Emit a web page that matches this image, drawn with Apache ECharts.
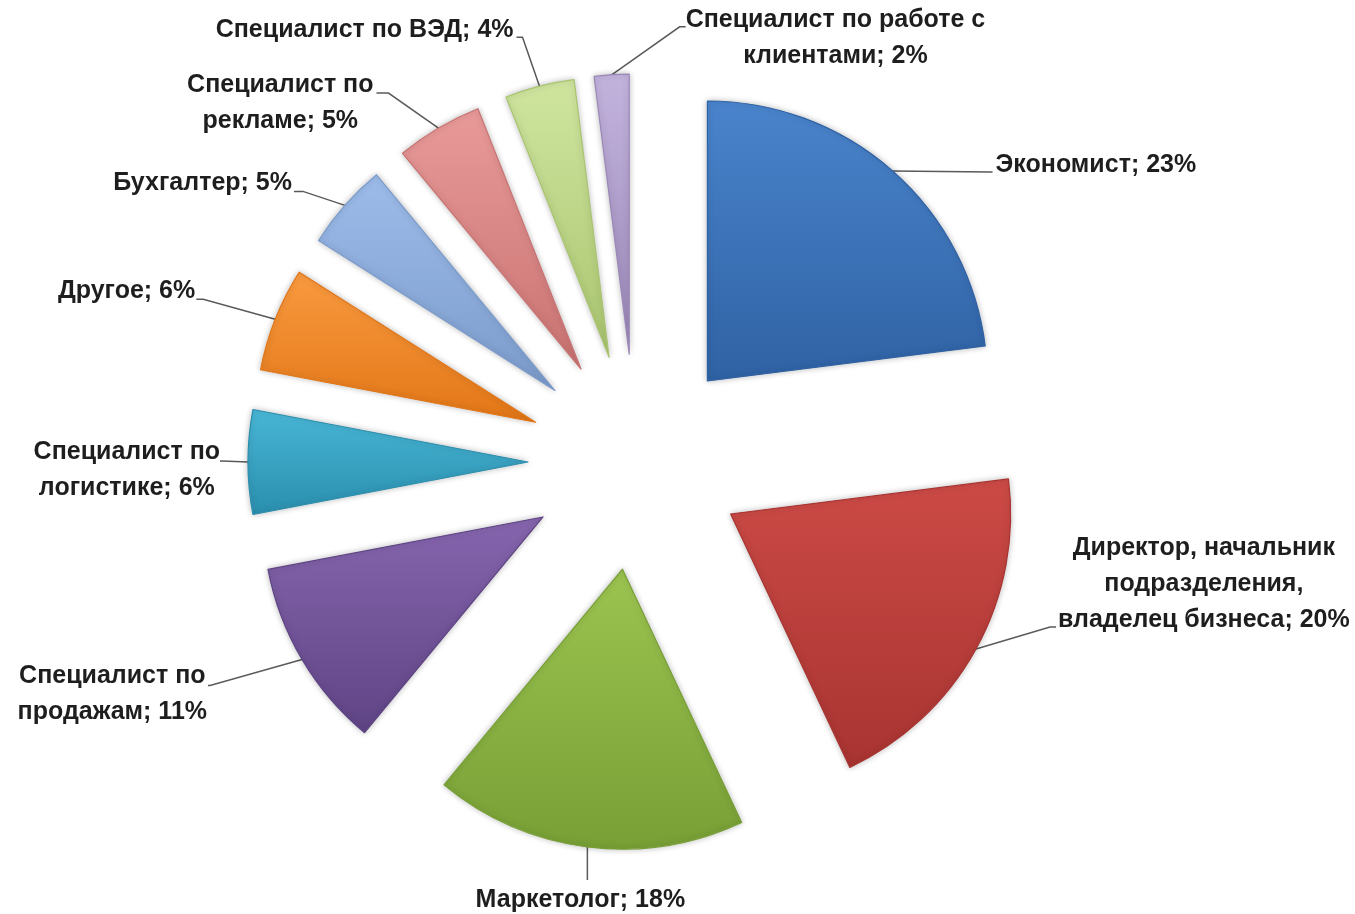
<!DOCTYPE html>
<html><head><meta charset="utf-8">
<script src="https://cdn.jsdelivr.net/npm/echarts@6/dist/echarts.min.js"></script>
<style>html,body{margin:0;padding:0;background:#fff}#c{width:1355px;height:914px}</style>
</head><body><div id="c"></div>
<script>
// ---- data ----
const categories = [
  'Экономист',
  'Директор, начальник\nподразделения,\nвладелец бизнеса',
  'Маркетолог',
  'Специалист по\nпродажам',
  'Специалист по\nлогистике',
  'Другое',
  'Бухгалтер',
  'Специалист по\nрекламе',
  'Специалист по ВЭД',
  'Специалист по работе с\nклиентами'
];
const shares = [23, 20, 18, 11, 6, 6, 5, 5, 4, 2];

// ---- styles ----
const topColors = ['#4a84cc','#cc4a46','#9cc450','#8665ae','#49b6d6','#f99a40','#9dbcea','#e89a99','#cfe59f','#c2b3dd'];
const botColors = ['#2f62a4','#a83431','#779f35','#5f4485','#2a8fae','#e27616','#7b9bcb','#c97372','#a9c56f','#9a87b7'];
// leader line (relative to slice edge point): bend point and stub end
const leadBend = [[98,1],[74,-22],[0,33],[-92,26],[-26,-1],[-72,-20],[-42,-14],[-50,-35],[-17,-49],[68,-48]];
const leadStub = [[100,1],[80,-22],[0,33],[-94,26],[-28,-1],[-79,-20],[-51,-14],[-62,-35],[-23,-49],[74,-48]];
// label anchor (relative to slice edge point) with its alignment
const anchor = [
  {align:'left',  va:'middle', ox:103, oy:-6},
  {align:'left',  va:'bottom', ox:82,  oy:-11},
  {align:'center',va:'top',    ox:-7,  oy:35},
  {align:'right', va:'top',    ox:-95, oy:-1},
  {align:'right', va:'top',    ox:-28, oy:-28},
  {align:'right', va:'middle', ox:-80, oy:-28},
  {align:'right', va:'middle', ox:-53, oy:-22},
  {align:'right', va:'top',    ox:-65, oy:-61},
  {align:'right', va:'middle', ox:-26, oy:-56},
  {align:'left',  va:'top',    ox:74,  oy:-73}
];

const chart = echarts.init(document.getElementById('c'), null, {renderer: 'canvas'});
const data = categories.map((n, i) => ({
  name: n,
  value: shares[i],
  selected: true,
  itemStyle: {
    color: new echarts.graphic.LinearGradient(0, 0, 0, 1, [
      {offset: 0, color: topColors[i]}, {offset: 1, color: botColors[i]}
    ]),
    borderColor: botColors[i],
    borderWidth: 1.2
  }
}));

chart.setOption({
  animation: false,
  series: [{
    type: 'pie',
    center: [636, 462],
    radius: 280,
    startAngle: 90,
    clockwise: true,
    selectedMode: 'multiple',
    selectedOffset: 108,
    avoidLabelOverlap: false,
    data: data,
    itemStyle: {shadowBlur: 6, shadowColor: 'rgba(0,0,0,0.25)'},
    select: {itemStyle: {shadowBlur: 6, shadowColor: 'rgba(0,0,0,0.25)'}},
    label: {
      show: true,
      position: 'outer',
      color: '#1e1e1e',
      fontFamily: 'Liberation Sans',
      fontWeight: 'bold',
      fontSize: 25,
      lineHeight: 36,
      formatter: p => {
        const lines = (p.name + '; ' + p.value + '%').split('\n');
        return lines.map(l => '{c|' + l + '}').join('\n');
      },
      rich: {c: {align: 'center', color: '#1e1e1e', fontFamily: 'Liberation Sans', fontWeight: 'bold', fontSize: 25, lineHeight: 36}}
    },
    labelLine: {show: true, length: 10, length2: 10, lineStyle: {color: '#5a5a5a', width: 1.5}},
    labelLayout: p => {
      const i = p.dataIndex;
      const P = p.labelLinePoints;
      const S = P[0];
      const side = P[2][0] >= P[1][0] ? 1 : -1;
      const defX = P[2][0] + side * 5, defY = P[2][1];
      const a = anchor[i];
      return {
        dx: S[0] + a.ox - defX,
        dy: S[1] + a.oy - defY,
        align: a.align, verticalAlign: a.va,
        labelLinePoints: [
          [S[0], S[1]],
          [S[0] + leadBend[i][0], S[1] + leadBend[i][1]],
          [S[0] + leadStub[i][0], S[1] + leadStub[i][1]]
        ]
      };
    }
  }]
});
</script>
</body></html>
